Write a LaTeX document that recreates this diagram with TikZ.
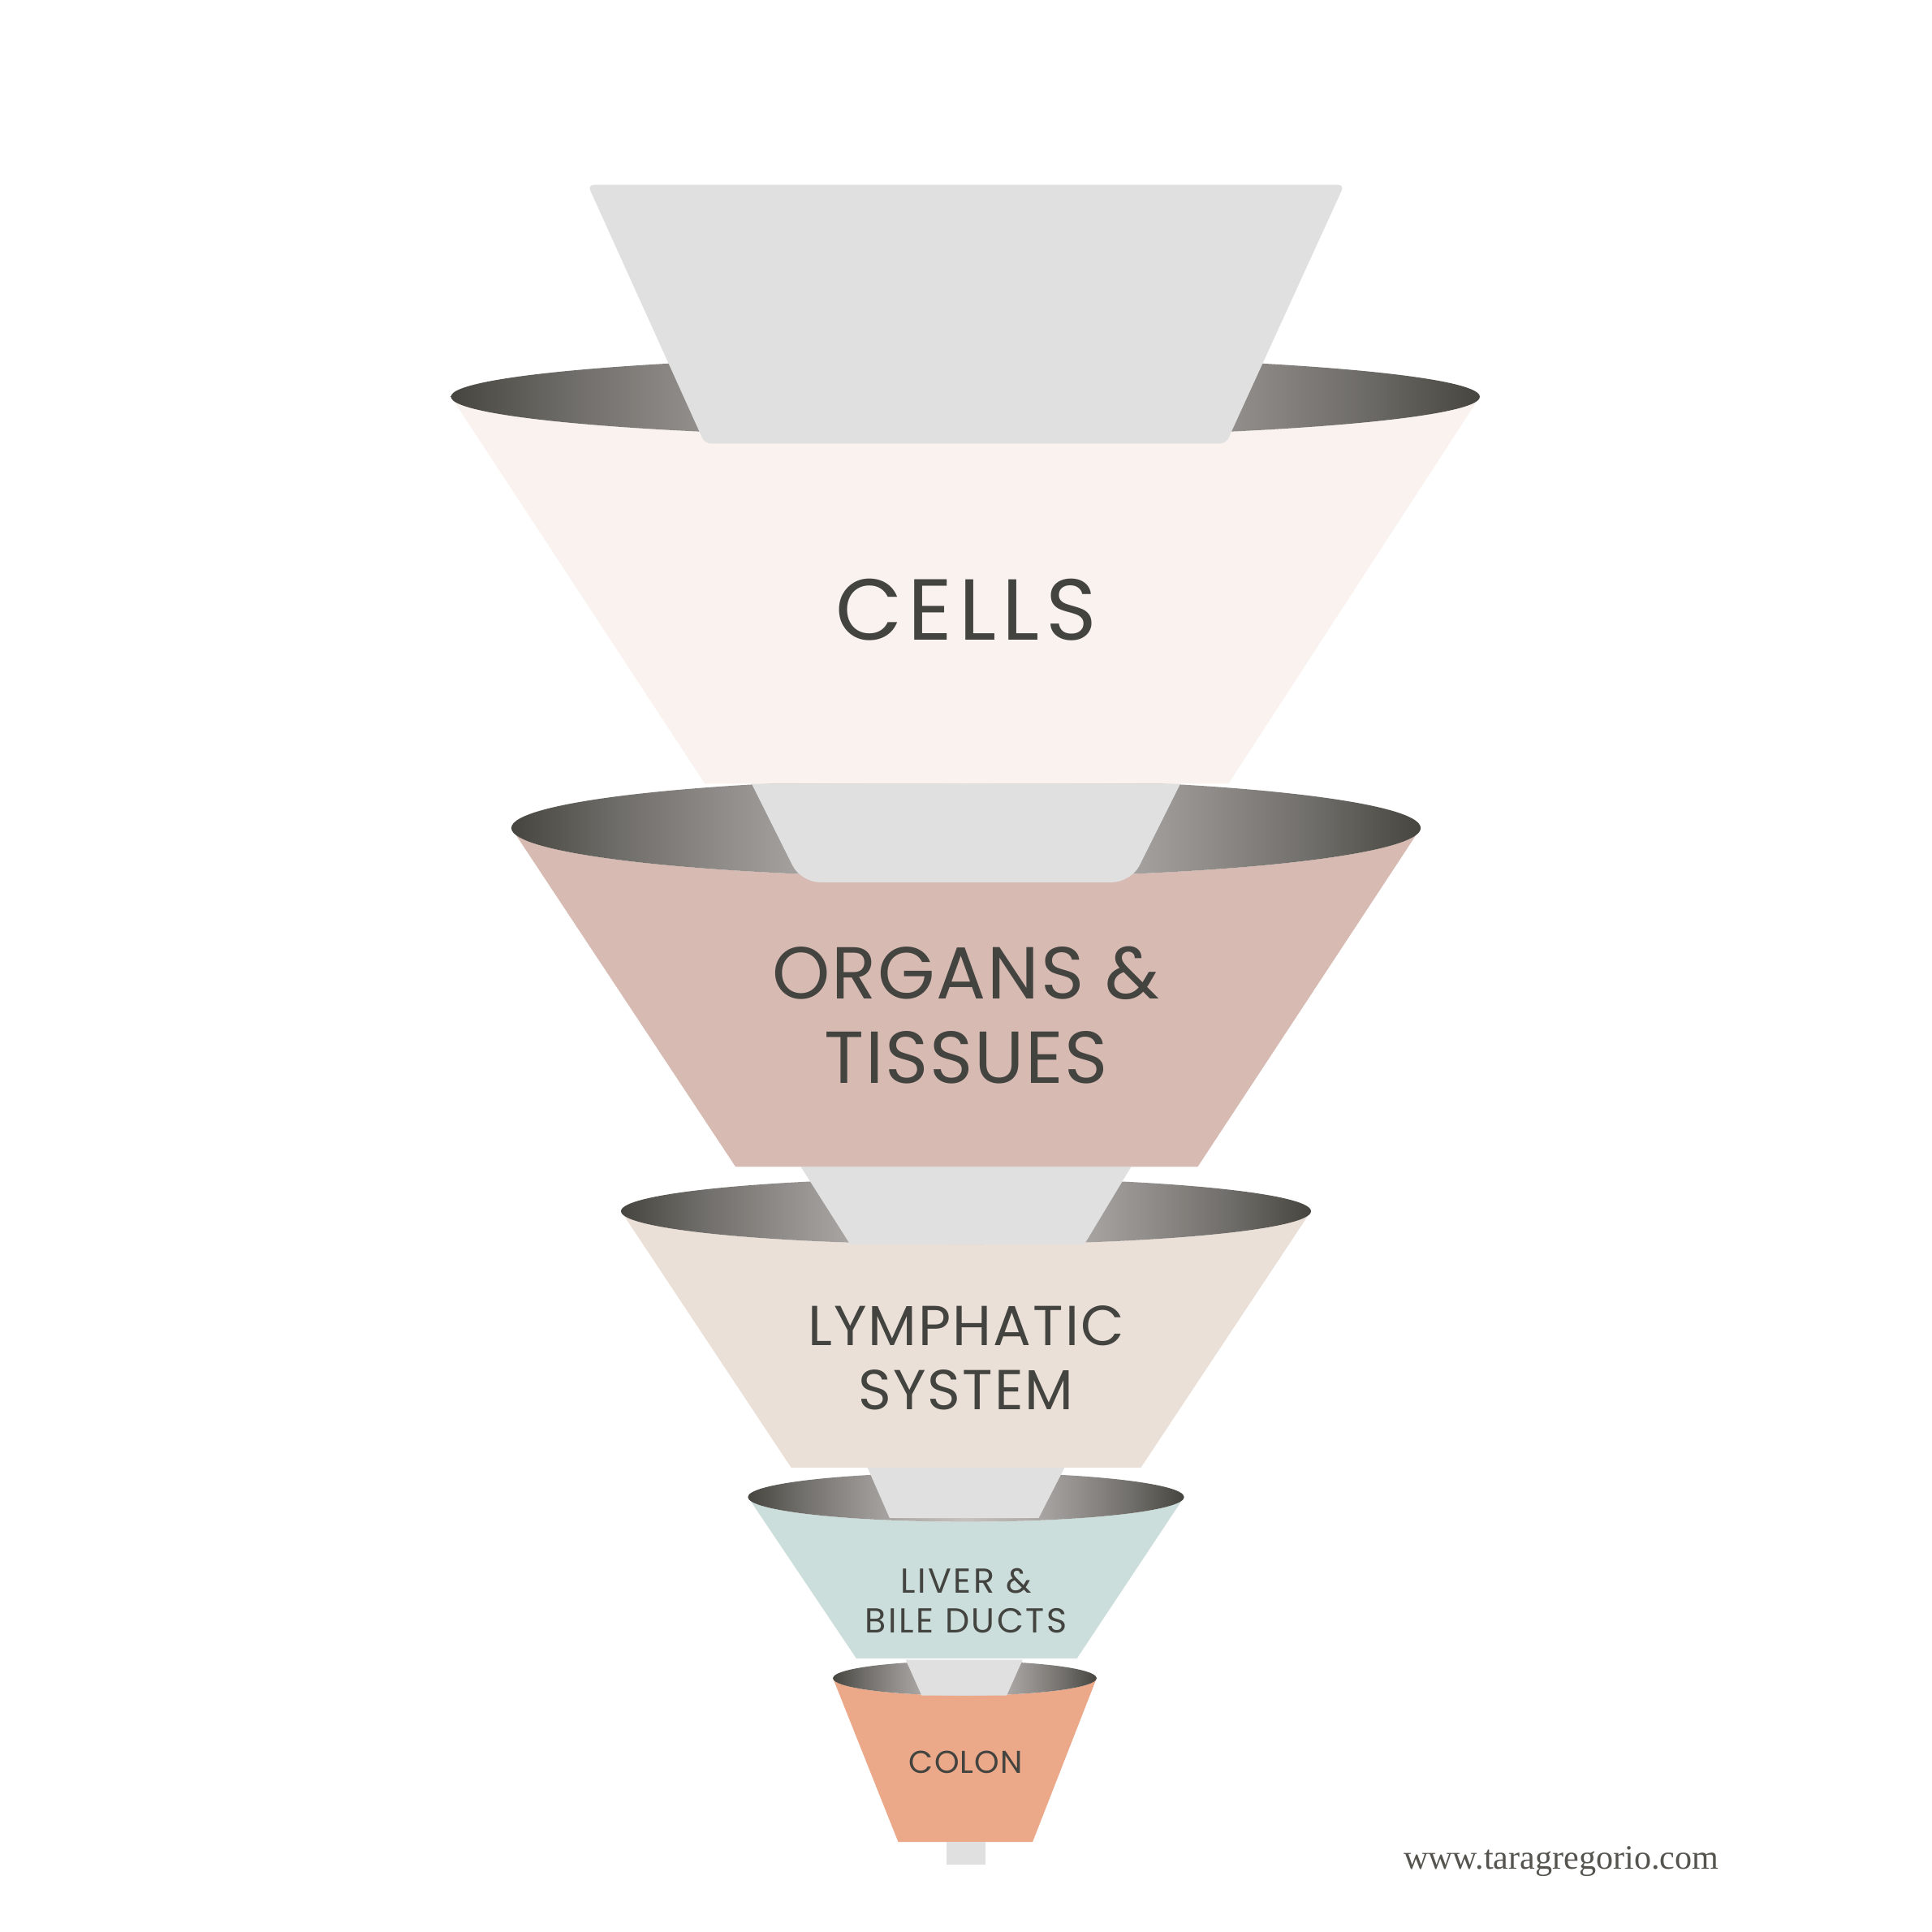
\documentclass[tikz,border=0pt]{standalone}
\usepackage{fontspec}
\newfontfamily\funnelfont{Poppins}
\newfontfamily\webfont{Liberation Serif}
\definecolor{hopgrey}{HTML}{E0E0E0}
\definecolor{cellsfill}{HTML}{F9F2EF}
\definecolor{organfill}{HTML}{D7BAB2}
\definecolor{lymphfill}{HTML}{EBE0D8}
\definecolor{liverfill}{HTML}{CBDEDB}
\definecolor{colonfill}{HTML}{EBA98A}
\definecolor{elldark}{HTML}{46453F}
\definecolor{labeltext}{HTML}{434340}
\definecolor{webtext}{HTML}{55544F}
\pgfdeclarehorizontalshading{rimshade}{100bp}{color(0bp)=(elldark); color(25bp)=(elldark);
  color(31bp)=(rgb,255:red,112;green,110;blue,106); color(37bp)=(rgb,255:red,146;green,142;blue,139);
  color(43bp)=(rgb,255:red,176;green,172;blue,169); color(50bp)=(rgb,255:red,196;green,193;blue,190);
  color(57bp)=(rgb,255:red,176;green,172;blue,169); color(63bp)=(rgb,255:red,146;green,142;blue,139);
  color(69bp)=(rgb,255:red,112;green,110;blue,106); color(75bp)=(elldark); color(100bp)=(elldark)}

\begin{document}
\begin{tikzpicture}[
      neck/.style={fill=hopgrey},
      rim/.style={shading=rimshade},
      tierlabel/.style={text=labeltext, align=center, inner sep=0pt}]
  \useasboundingbox (0,0) rectangle (15.68,-15.68);

  % colon
  \fill[colonfill] (6.76,-13.62) -- (7.29,-14.95) -- (8.38,-14.95) -- (8.90,-13.62)
    arc[start angle=0, end angle=-180, x radius=1.07, y radius=0.14] -- cycle;
  \shade[rim] (7.83,-13.62) ellipse[x radius=1.07, y radius=0.14];
  \fill[neck] (7.35,-13.47) -- (7.48,-13.76) -- (8.17,-13.76) -- (8.30,-13.47) -- cycle;
  \fill[neck] (7.68,-14.95) rectangle (8.00,-15.13);

  % liver
  \fill[liverfill] (6.07,-12.15) -- (6.95,-13.46) -- (8.74,-13.46) -- (9.61,-12.15)
    arc[start angle=0, end angle=-180, x radius=1.77, y radius=0.20] -- cycle;
  \shade[rim] (7.84,-12.15) ellipse[x radius=1.77, y radius=0.20];
  \fill[neck] (7.04,-11.91) -- (7.22,-12.32) -- (8.43,-12.32) -- (8.64,-11.91) -- cycle;

  % lymphatic system
  \fill[lymphfill] (5.04,-9.83) -- (6.42,-11.91) -- (9.26,-11.91) -- (10.64,-9.83)
    arc[start angle=0, end angle=-180, x radius=2.80, y radius=0.27] -- cycle;
  \shade[rim] (7.84,-9.83) ellipse[x radius=2.80, y radius=0.27];
  \fill[neck] (6.50,-9.47) -- (6.90,-10.10) -- (8.80,-10.10) -- (9.18,-9.47) -- cycle;

  % organs
  \fill[organfill] (4.15,-6.72) -- (5.97,-9.47) -- (9.72,-9.47) -- (11.53,-6.72)
    arc[start angle=0, end angle=-180, x radius=3.69, y radius=0.40] -- cycle;
  \shade[rim] (7.84,-6.72) ellipse[x radius=3.69, y radius=0.40];
  \fill[neck] (6.10,-6.36) [rounded corners=0.15cm] -- (6.50,-7.16) -- (9.18,-7.16)
    [sharp corners] -- (9.58,-6.36) -- cycle;

  % cells
  \fill[cellsfill] (3.66,-3.22) -- (5.72,-6.36) -- (9.97,-6.36) -- (12.01,-3.22)
    arc[start angle=0, end angle=-180, x radius=4.175, y radius=0.33] -- cycle;
  \shade[rim] (7.835,-3.22) ellipse[x radius=4.175, y radius=0.33];
  \fill[neck, rounded corners=0.05cm] (4.77,-1.50) -- (5.72,-3.60) -- (9.95,-3.60) -- (10.91,-1.50) -- cycle;

  \node[tierlabel, font=\funnelfont\addfontfeature{LetterSpace=7}\fontsize{20}{24}\selectfont] (cells) at (7.84,-4.95) {CELLS};
  \node[tierlabel, font=\funnelfont\addfontfeature{LetterSpace=2}\fontsize{17}{19.4}\selectfont] (organs) at (7.84,-8.24) {ORGANS \&\\TISSUES};
  \node[tierlabel, font=\funnelfont\addfontfeature{LetterSpace=3}\fontsize{13}{14.8}\selectfont] (lymph) at (7.84,-11.02) {LYMPHATIC\\SYSTEM};
  \node[tierlabel, font=\funnelfont\addfontfeature{LetterSpace=6}\fontsize{8}{9.1}\selectfont] (liver) at (7.84,-12.99) {LIVER \&\\BILE DUCTS};
  \node[tierlabel, font=\funnelfont\addfontfeature{LetterSpace=3}\fontsize{7.3}{8.8}\selectfont] (colon) at (7.84,-14.30) {COLON};
  \node[text=webtext, font=\webfont\fontsize{7.9}{9.5}\selectfont] (web) at (12.67,-15.11) {www.taragregorio.com};
\end{tikzpicture}
\end{document}
